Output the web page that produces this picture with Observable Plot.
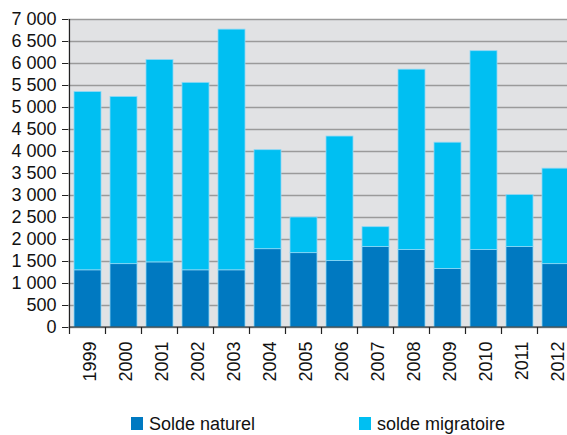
<!DOCTYPE html>
<html><head><meta charset="utf-8">
<script src="https://cdn.jsdelivr.net/npm/d3@7"></script>
<script src="https://cdn.jsdelivr.net/npm/@observablehq/plot@0.6"></script>
<style>
html,body{margin:0;padding:0;background:#fff;overflow:hidden;}
#wrap{width:567px;overflow:hidden;font-family:"Liberation Sans",Arial,sans-serif;}
#legend{position:relative;height:35px;font-size:18px;color:#111;}
#legend .sw{position:absolute;width:12px;height:13px;}
#legend .lb{position:absolute;line-height:normal;white-space:nowrap;}
</style></head>
<body><div id="wrap"><div id="chart"></div><div id="legend"></div></div>
<script>
const years = ["1999","2000","2001","2002","2003","2004","2005","2006","2007","2008","2009","2010","2011","2012"];
const soldeNaturel = [1300,1440,1480,1300,1300,1780,1690,1510,1830,1760,1330,1760,1830,1440];
const soldeMigratoire = [4050,3800,4600,4260,5470,2250,810,2830,450,4100,2870,4520,1180,2170];
const seriesNames = ["Solde naturel","solde migratoire"];
const seriesColors = ["#0079c1","#00bff2"];
const yTicks = [0,500,1000,1500,2000,2500,3000,3500,4000,4500,5000,5500,6000,6500,7000];

const data = [];
years.forEach((yr,i)=>{
  data.push({year: yr, series: seriesNames[0], value: soldeNaturel[i]});
  data.push({year: yr, series: seriesNames[1], value: soldeMigratoire[i]});
});

const fr = d3.formatLocale({decimal:",", thousands:" ", grouping:[3], currency:["","€"]});
const fmt = fr.format(",d");

const H = 400;
function axisLines(index, scales, values, dimensions) {
  const x = scales.x, y = scales.y;
  const step = x(years[1]) - x(years[0]);
  let bw = typeof x.bandwidth === "function" ? x.bandwidth() : x.bandwidth;
  const g = d3.create("svg:g").attr("stroke","#222").attr("stroke-width",1.2).attr("fill","none");
  const y0 = y(0), yt = y(yTicks[yTicks.length-1]);
  const bounds = years.map(yr => bw != null ? x(yr) - (step - bw)/2 : x(yr) - step/2);
  bounds.push(bounds[bounds.length-1] + step);
  g.append("line").attr("x1",bounds[0]).attr("x2",bounds[0]).attr("y1",yt).attr("y2",y0);
  g.append("line").attr("x1",bounds[0]).attr("x2",bounds[bounds.length-1]).attr("y1",y0).attr("y2",y0);
  bounds.forEach(b => g.append("line").attr("x1",b).attr("x2",b).attr("y1",y0).attr("y2",y0+7));
  return g.node();
}

const chart = Plot.plot({
  width: 567,
  height: H,
  marginLeft: 68,
  marginRight: -8,
  marginTop: 19,
  marginBottom: H - 327,
  style: {fontFamily: "'Liberation Sans', Arial, sans-serif", background: "#fff", overflow: "hidden"},
  x: {type: "band", domain: years, paddingInner: 0.25, paddingOuter: 0.125, label: null, axis: null},
  y: {domain: [0, 7000], label: null, axis: null},
  color: {domain: seriesNames, range: seriesColors},
  marks: [
    Plot.frame({fill: "#e1e2e4", stroke: null}),
    Plot.ruleY(yTicks, {stroke: "#9a9a9a", strokeWidth: 1.6}),
    Plot.barY(data, {x: "year", y: "value", fill: "series", order: seriesNames, stroke: "#8fd8f5", strokeWidth: 0.8}),
    axisLines,
    Plot.axisY({ticks: yTicks, tickFormat: fmt, tickSize: 6, tickPadding: 6, fontSize: 18, fill: "#111", stroke: "#222", label: null}),
    Plot.text(years, {x: d => d, y: () => 0, text: d => d, rotate: -90, textAnchor: "end", lineAnchor: "middle", dy: 14, dx: 2, fontSize: 18, fill: "#111"})
  ]
});
document.getElementById("chart").appendChild(chart);

const legend = document.getElementById("legend");
const legendPos = [[131,149],[359,377]];
seriesNames.forEach((n,i)=>{
  const sw = document.createElement("div");
  sw.className = "sw"; sw.style.left = legendPos[i][0]+"px"; sw.style.top = "17px"; sw.style.background = seriesColors[i];
  legend.appendChild(sw);
  const lb = document.createElement("div");
  lb.className = "lb"; lb.style.left = legendPos[i][1]+"px"; lb.style.top = "14px"; lb.textContent = n;
  legend.appendChild(lb);
});
</script>
</body></html>
